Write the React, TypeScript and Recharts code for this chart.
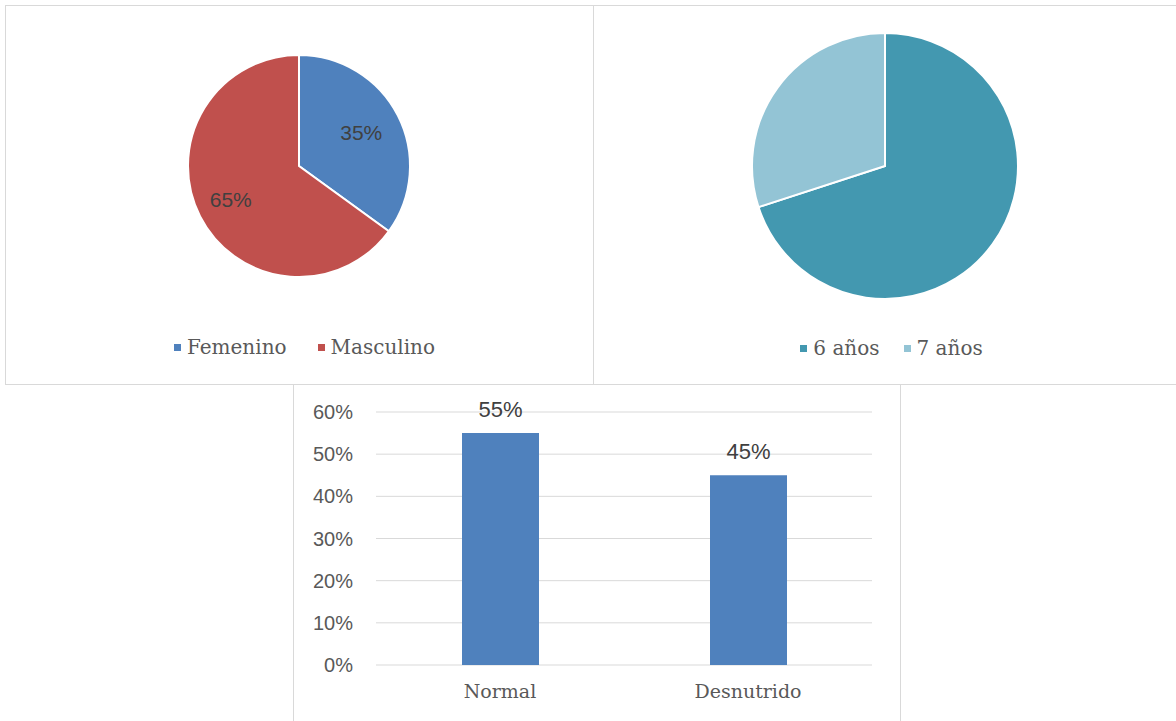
import { PieChart, Pie, Cell, BarChart, Bar, XAxis, YAxis, CartesianGrid, LabelList, Legend } from 'recharts';

const sexLabels = ['Femenino', 'Masculino'];
const sexValues = [35, 65];
const sexColors = ['#4F81BD', '#C0504D'];

const ageLabels = ['6 años', '7 años'];
const ageValues = [70, 30];
const ageColors = ['#4398B0', '#93C4D5'];

const statusLabels = ['Normal', 'Desnutrido'];
const statusValues = [0.55, 0.45];
const yTicks = [0, 0.1, 0.2, 0.3, 0.4, 0.5, 0.6];

const sexData = sexLabels.map((name, i) => ({ name, value: sexValues[i] }));
const ageData = ageLabels.map((name, i) => ({ name, value: ageValues[i] }));
const statusData = statusLabels.map((name, i) => ({ name, value: statusValues[i] }));

const border = '1px solid #d9d9d9';
const textColor = '#595959';
const slab = '"DejaVu Serif", serif';
const sans = '"Liberation Sans", Arial, sans-serif';
const RAD = Math.PI / 180;
const noMargin = { top: 0, right: 0, bottom: 0, left: 0 };

const pctLabel = (props: any) => {
  const { cx, cy, midAngle, outerRadius, value } = props;
  const r = outerRadius * 0.66;
  const x = cx + r * Math.cos(-midAngle * RAD);
  const y = cy + r * Math.sin(-midAngle * RAD);
  return (
    <text x={x - 3} y={y} fill="#404040" fontSize={21} fontFamily={sans} textAnchor="middle" dominantBaseline="central">
      {`${value}%`}
    </text>
  );
};

const legendContent = (items: string[], colors: string[], gap: number) => () => (
  <div style={{ display: 'flex', justifyContent: 'center', gap, fontFamily: slab, fontSize: 20, color: textColor }}>
    {items.map((name, i) => (
      <span key={name} style={{ display: 'flex', alignItems: 'center' }}>
        <span style={{ width: 7, height: 7, background: colors[i], marginRight: 6, display: 'inline-block' }} />
        {name}
      </span>
    ))}
  </div>
);

export default function App() {
  return (
    <div style={{ position: 'absolute', left: 0, top: 0, width: 1176, height: 721, background: '#fff', overflow: 'hidden' }}>
      <div style={{ position: 'absolute', left: 5, top: 5, width: 587, height: 378, border }}>
        <PieChart width={587} height={378} margin={noMargin}>
          <Pie
            data={sexData}
            dataKey="value"
            cx={293}
            cy={160}
            outerRadius={111}
            startAngle={90}
            endAngle={-270}
            stroke="#fff"
            strokeWidth={2}
            label={pctLabel}
            labelLine={false}
            isAnimationActive={false}
          >
            {sexData.map((d, i) => (
              <Cell key={d.name} fill={sexColors[i]} />
            ))}
          </Pie>
          <Legend content={legendContent(sexLabels, sexColors, 31)} wrapperStyle={{ top: 329, left: 5, width: 587 }} />
        </PieChart>
      </div>
      <div style={{ position: 'absolute', left: 593, top: 5, width: 583, height: 378, borderTop: border, borderBottom: border, borderLeft: border }}>
        <PieChart width={583} height={378} margin={noMargin}>
          <Pie
            data={ageData}
            dataKey="value"
            cx={291}
            cy={160}
            outerRadius={133}
            startAngle={90}
            endAngle={-270}
            stroke="#fff"
            strokeWidth={2}
            isAnimationActive={false}
          >
            {ageData.map((d, i) => (
              <Cell key={d.name} fill={ageColors[i]} />
            ))}
          </Pie>
          <Legend content={legendContent(ageLabels, ageColors, 24)} wrapperStyle={{ top: 330, left: 6, width: 583 }} />
        </PieChart>
      </div>
      <div style={{ position: 'absolute', left: 293, top: 384, width: 606, height: 340, borderLeft: border, borderRight: border }}>
        <BarChart width={606} height={337} data={statusData} margin={{ top: 28, right: 28, left: 0, bottom: 0 }} barSize={77}>
          <CartesianGrid vertical={false} stroke="#d9d9d9" />
          <XAxis
            dataKey="name"
            axisLine={false}
            tickLine={false}
            tickSize={0}
            tickMargin={20}
            height={56}
            tick={{ fill: textColor, fontSize: 19, fontFamily: slab }}
          />
          <YAxis
            domain={[0, 0.6]}
            ticks={yTicks}
            axisLine={false}
            tickLine={false}
            tickSize={0}
            tickMargin={23}
            width={82}
            tickFormatter={(v: number) => `${Math.round(v * 100)}%`}
            tick={{ fill: textColor, fontSize: 20, fontFamily: sans }}
          />
          <Bar dataKey="value" fill="#4F81BD" isAnimationActive={false}>
            <LabelList
              dataKey="value"
              position="top"
              offset={16}
              formatter={(v: any) => `${Math.round(Number(v) * 100)}%`}
              style={{ fill: '#404040', fontSize: 22, fontFamily: sans }}
            />
          </Bar>
        </BarChart>
      </div>
    </div>
  );
}
